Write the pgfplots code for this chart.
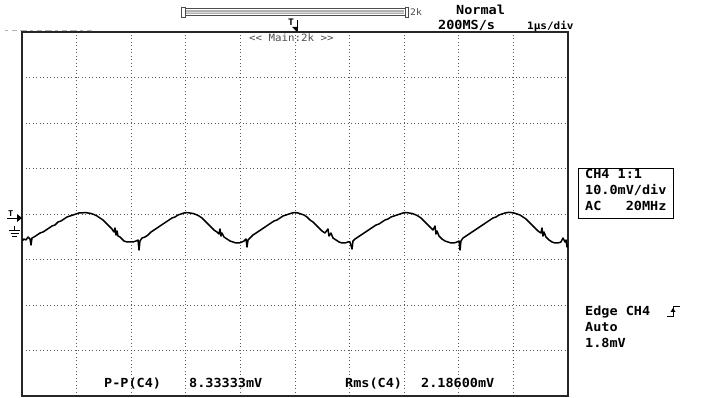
\documentclass[border=0pt]{standalone}
\usepackage{pgfplots}
\pgfplotsset{compat=1.18}
\usepackage{fontspec}
\newfontfamily\scope[FakeStretch=1.08]{DejaVu Sans Mono}
\begin{document}
\begin{tikzpicture}[x=1pt,y=1pt]
\path[use as bounding box, fill=white] (0,0) rectangle (710,398);
\begin{axis}[
  at={(22pt,2pt)}, anchor=south west,
  scale only axis, width=546pt, height=364pt,
  xmin=0, xmax=10, ymin=-40, ymax=40,
  xtick={0,1,...,10}, ytick={-40,-30,...,40},
  xticklabels={}, yticklabels={},
  major tick length=0pt,
  grid=major,
  grid style={black!65, line width=0.8pt, dash pattern=on 0.9pt off 2.6pt},
  axis line style={black!85, line width=1.5pt},
  clip=true,
]
\addplot[black, line width=1.5pt, line join=round] coordinates {
(0.000,-5.93) (0.037,-5.50) (0.073,-5.71) (0.110,-5.06) (0.147,-5.50) (0.165,-6.81)
(0.183,-5.28) (0.220,-5.06) (0.275,-4.62) (0.330,-4.18) (0.385,-3.96) (0.440,-3.52)
(0.495,-3.08) (0.549,-2.64) (0.604,-2.42) (0.659,-1.76) (0.714,-1.54) (0.769,-1.10)
(0.824,-0.66) (0.879,-0.44) (0.934,-0.22) (0.989,0.00) (1.044,0.22) (1.099,0.22)
(1.154,0.33) (1.209,0.22) (1.264,0.11) (1.319,-0.11) (1.374,-0.44) (1.429,-0.88)
(1.484,-1.32) (1.538,-1.98) (1.593,-2.64) (1.648,-3.30) (1.685,-3.96) (1.703,-3.08)
(1.722,-4.62) (1.740,-3.74) (1.758,-4.84) (1.795,-5.06) (1.832,-5.50) (1.868,-5.93)
(1.923,-6.15) (1.978,-6.15) (2.033,-6.15) (2.088,-5.93) (2.125,-5.71) (2.143,-7.91)
(2.161,-5.93) (2.198,-5.28) (2.253,-5.06) (2.308,-4.62) (2.363,-3.96) (2.418,-3.52)
(2.473,-3.08) (2.527,-2.64) (2.582,-2.20) (2.637,-1.76) (2.692,-1.32) (2.747,-0.88)
(2.802,-0.66) (2.857,-0.22) (2.912,0.00) (2.967,0.22) (3.022,0.33) (3.077,0.22)
(3.132,0.11) (3.187,-0.11) (3.242,-0.44) (3.297,-0.88) (3.352,-1.54) (3.407,-2.20)
(3.462,-2.86) (3.516,-3.52) (3.571,-3.96) (3.608,-4.40) (3.626,-3.30) (3.645,-4.84)
(3.663,-4.18) (3.700,-5.06) (3.755,-5.50) (3.810,-5.93) (3.864,-6.15) (3.919,-6.37)
(3.974,-6.37) (4.029,-6.15) (4.066,-5.93) (4.103,-5.50) (4.121,-7.25) (4.139,-5.71)
(4.176,-5.28) (4.231,-4.62) (4.286,-4.18) (4.341,-3.74) (4.396,-3.30) (4.451,-2.86)
(4.505,-2.42) (4.560,-1.98) (4.615,-1.54) (4.670,-1.32) (4.725,-0.88) (4.780,-0.44)
(4.835,-0.22) (4.890,0.00) (4.945,0.22) (5.000,0.33) (5.055,0.22) (5.110,0.00)
(5.165,-0.22) (5.220,-0.66) (5.275,-1.32) (5.330,-1.76) (5.385,-2.42) (5.440,-3.08)
(5.495,-3.74) (5.549,-4.18) (5.604,-3.30) (5.623,-4.84) (5.659,-4.18) (5.696,-5.28)
(5.751,-5.71) (5.806,-6.15) (5.861,-6.37) (5.916,-6.37) (5.971,-6.15) (6.007,-6.15)
(6.044,-7.69) (6.062,-5.93) (6.099,-5.50) (6.154,-5.06) (6.209,-4.62) (6.264,-4.18)
(6.319,-3.74) (6.374,-3.30) (6.429,-2.86) (6.484,-2.42) (6.538,-2.20) (6.593,-1.76)
(6.648,-1.32) (6.703,-1.10) (6.758,-0.66) (6.813,-0.44) (6.868,-0.22) (6.923,0.00)
(6.978,0.22) (7.033,0.33) (7.088,0.22) (7.143,0.11) (7.198,-0.11) (7.253,-0.44)
(7.308,-0.88) (7.363,-1.54) (7.418,-2.20) (7.473,-2.86) (7.527,-3.52) (7.564,-2.64)
(7.582,-4.40) (7.601,-3.74) (7.637,-4.84) (7.692,-5.50) (7.747,-5.93) (7.802,-6.15)
(7.857,-6.37) (7.912,-6.37) (7.967,-6.15) (8.004,-5.93) (8.022,-7.91) (8.040,-5.93)
(8.077,-5.28) (8.132,-4.84) (8.187,-4.40) (8.242,-3.96) (8.297,-3.52) (8.352,-3.08)
(8.407,-2.64) (8.462,-2.20) (8.516,-1.76) (8.571,-1.32) (8.626,-0.88) (8.681,-0.66)
(8.736,-0.22) (8.791,0.00) (8.846,0.22) (8.901,0.33) (8.956,0.33) (9.011,0.22)
(9.066,0.00) (9.121,-0.22) (9.176,-0.66) (9.231,-1.10) (9.286,-1.76) (9.341,-2.42)
(9.396,-3.08) (9.451,-3.74) (9.505,-4.18) (9.524,-3.08) (9.542,-4.84) (9.560,-3.96)
(9.597,-5.06) (9.652,-5.71) (9.707,-6.15) (9.762,-6.37) (9.817,-6.37) (9.872,-6.15)
(9.908,-5.28) (9.945,-6.15) (9.963,-5.71) (9.982,-7.25) (10.000,-6.59)
};
\end{axis}
% top-left faint dashes
\draw[gray!60, line width=0.8pt, dash pattern=on 3pt off 4pt on 5pt off 3pt on 7pt off 3pt] (5,368) -- (90,368);
\fill[gray!60] (91,367.5) circle (0.8pt);
% scroll bar
\draw[gray!60!black, line width=0.9pt] (181.5,381) rectangle (185,391);
\draw[gray!60!black, line width=0.9pt] (185,382.5) rectangle (405,389.5);
\fill[gray!60] (186,384.2) rectangle (404,387.8);
\draw[gray!30, line width=0.5pt] (186,386) -- (404,386);
\draw[gray!60!black, line width=0.9pt] (405,381) rectangle (408.5,391);
\node[anchor=base west, inner sep=0pt, text=gray!60!black] at (410,382) {\scope\fontsize{9}{9}\selectfont 2k};
% top trigger marker
\node[anchor=base west, inner sep=0pt] at (288,372) {\scope\bfseries\fontsize{9}{9}\selectfont T};
\fill (292,371) -- (298,371) -- (297,366) -- cycle;
\draw[line width=0.8pt] (297.5,378) -- (297.5,367);
% top labels
\node[anchor=base west, inner sep=0pt] at (456,383) {\scope\bfseries\fontsize{12.5}{12.5}\selectfont Normal};
\node[anchor=base west, inner sep=0pt] at (438,368) {\scope\bfseries\fontsize{12.5}{12.5}\selectfont 200MS/s};
\node[anchor=base west, inner sep=0pt] at (527,368) {\scope\bfseries\fontsize{10.2}{10.2}\selectfont 1µs/div};
\node[anchor=base west, inner sep=0pt, text=gray!60!black] at (249,356) {\scope\fontsize{10}{10}\selectfont << Main:2k >>};
% left markers
\node[anchor=base west, inner sep=0pt] at (8,181) {\scope\bfseries\fontsize{8}{8}\selectfont T};
\draw[line width=0.8pt] (7,179.5) -- (18,179.5);
\fill (17,184) -- (22,180) -- (17,176) -- cycle;
\draw[line width=0.8pt] (14.5,172) -- (14.5,168) (9,168) -- (20,168) (10.5,165) -- (18.5,165) (12,162) -- (17,162);
% channel box
\draw[black, line width=0.9pt] (578,180) rectangle (673,230);
\node[anchor=base west, inner sep=0pt] at (585,219) {\scope\bfseries\fontsize{12.5}{12.5}\selectfont CH4 1:1};
\node[anchor=base west, inner sep=0pt] at (585,203) {\scope\bfseries\fontsize{12.5}{12.5}\selectfont 10.0mV/div};
\node[anchor=base west, inner sep=0pt] at (585,187) {\scope\bfseries\fontsize{12.5}{12.5}\selectfont AC\ \ \ 20MHz};
% trigger info
\node[anchor=base west, inner sep=0pt] at (585,82) {\scope\bfseries\fontsize{12.5}{12.5}\selectfont Edge CH4};
\draw[line width=0.9pt] (667,82) -- (673,82) -- (673,92) -- (680,92);
\fill (670.5,86) -- (675.5,86) -- (673,90) -- cycle;
\node[anchor=base west, inner sep=0pt] at (585,66) {\scope\bfseries\fontsize{12.5}{12.5}\selectfont Auto};
\node[anchor=base west, inner sep=0pt] at (585,50) {\scope\bfseries\fontsize{12.5}{12.5}\selectfont 1.8mV};
% measurements
\node[anchor=base west, inner sep=0pt] at (104,10) {\scope\bfseries\fontsize{12.5}{12.5}\selectfont P-P(C4)};
\node[anchor=base west, inner sep=0pt] at (189,10) {\scope\bfseries\fontsize{12.5}{12.5}\selectfont 8.33333mV};
\node[anchor=base west, inner sep=0pt] at (345,10) {\scope\bfseries\fontsize{12.5}{12.5}\selectfont Rms(C4)};
\node[anchor=base west, inner sep=0pt] at (421,10) {\scope\bfseries\fontsize{12.5}{12.5}\selectfont 2.18600mV};
\end{tikzpicture}
\end{document}
